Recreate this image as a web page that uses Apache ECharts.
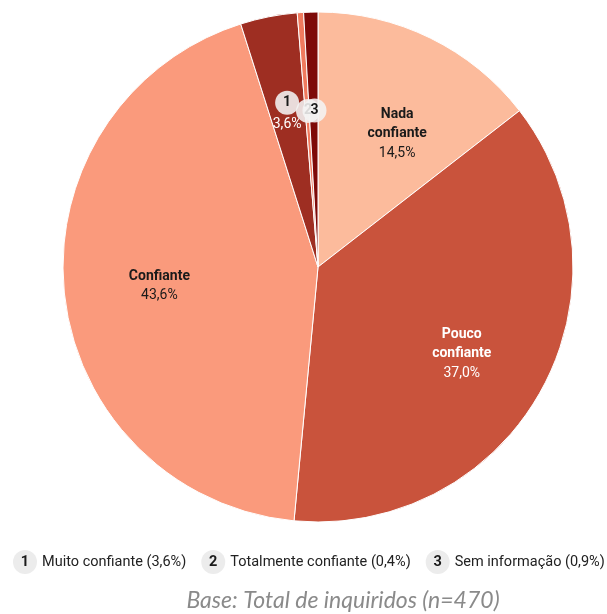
<!DOCTYPE html>
<html>
<head>
<meta charset="utf-8">
<script src="https://cdn.jsdelivr.net/npm/echarts@6/dist/echarts.min.js"></script>
<style>
  html, body { margin: 0; padding: 0; background: #ffffff; }
  #chart { width: 607px; height: 614px; }
</style>
</head>
<body>
<div id="chart"></div>
<script>
// Confidence categories, clockwise from 12 o'clock
const categories = ['Nada confiante', 'Pouco confiante', 'Confiante', 'Muito confiante', 'Totalmente confiante', 'Sem informação'];
const shares = [14.5, 37.0, 43.6, 3.6, 0.4, 0.9];
const sliceColors = ['#fcbb9c', '#c9533c', '#fa9a7c', '#9e2e22', '#f07a5e', '#7e0a08'];
// Small slices are tagged with a number and explained in the legend
const badges = ['', '', '', '1', '2', '3'];
const labelColors = ['#1a1a1a', '#ffffff', '#1a1a1a', '#ffffff', '#1a1a1a', '#1a1a1a'];
const showShareOnSlice = [true, true, true, true, false, false];

const fmt = v => v.toFixed(1).replace('.', ',') + '%';

// Geometry and fine label placement
const CX = 318, CY = 267, R = 255;
const labelNudge = [[9, 10], [4, 10], [0, 2], [0, 2], [1, 3], [1, 3]];

const pieData = categories.map((name, i) => ({
  name: name,
  value: shares[i],
  itemStyle: { color: sliceColors[i] }
}));

// Label carrier: transparent ring whose mid-radius sits where the labels go
const labelData = categories.map((name, i) => {
  let text;
  if (badges[i]) {
    text = '{badge|' + badges[i] + '}' + (showShareOnSlice[i] ? '\n{pct|' + fmt(shares[i]) + '}' : '');
  } else {
    text = name.split(' ').map(w => '{name|' + w + '}').join('\n') + '\n{pct|' + fmt(shares[i]) + '}';
  }
  return {
    name: name,
    value: shares[i],
    itemStyle: { color: 'rgba(0,0,0,0)' },
    label: {
      formatter: text,
      color: labelColors[i],
      rich: {
        name: { fontFamily: 'Roboto', fontWeight: 'bold', fontSize: 14, lineHeight: 19.5, color: labelColors[i] },
        pct: { fontFamily: 'Roboto', fontSize: 14, lineHeight: 19.5, color: labelColors[i] },
        badge: {
          fontFamily: 'Roboto', fontWeight: 'bold', fontSize: 14, color: '#1a1a1a',
          backgroundColor: 'rgba(244,244,244,0.88)', borderRadius: 12,
          width: 24, height: 24, lineHeight: 24, align: 'center'
        }
      }
    }
  };
});

const legendNames = categories.filter((_, i) => badges[i]);

const chart = echarts.init(document.getElementById('chart'), null, { renderer: 'canvas' });
chart.setOption({
  animation: false,
  backgroundColor: '#ffffff',
  title: {
    text: 'Base: Total de inquiridos (n=470)',
    left: 343,
    textAlign: 'center',
    top: 589,
    padding: 0,
    textStyle: { fontFamily: 'Lato', fontStyle: 'italic', fontWeight: 'normal', fontSize: 23, color: '#8a8a8a' }
  },
  legend: {
    data: legendNames,
    orient: 'horizontal',
    left: 7,
    top: 550,
    width: 800,
    padding: 0,
    icon: 'circle',
    itemWidth: 0,
    itemHeight: 0,
    itemGap: 9,
    selectedMode: false,
    formatter: name => {
      const i = categories.indexOf(name);
      return '{b|' + badges[i] + '}{t|' + name + ' (' + fmt(shares[i]) + ')}';
    },
    textStyle: {
      fontFamily: 'Roboto', fontSize: 14.5, color: '#222222',
      rich: {
        b: {
          fontFamily: 'Roboto', fontWeight: 'bold', fontSize: 14.5, color: '#1a1a1a',
          backgroundColor: '#ececec', borderRadius: 12, width: 24, height: 24, lineHeight: 24,
          align: 'center'
        },
        t: { fontFamily: 'Roboto', fontSize: 14.5, color: '#222222', padding: [0, 0, 0, 5] }
      }
    }
  },
  series: [
    {
      type: 'pie',
      center: [CX, CY],
      radius: [0, R],
      startAngle: 90,
      clockwise: true,
      silent: true,
      label: { show: false },
      labelLine: { show: false },
      itemStyle: { borderColor: '#ffffff', borderWidth: 1 },
      data: pieData
    },
    {
      type: 'pie',
      center: [CX, CY],
      radius: [58, R],
      startAngle: 90,
      clockwise: true,
      silent: true,
      label: { show: true, position: 'inside', align: 'center' },
      labelLine: { show: false },
      labelLayout: params => ({
        hideOverlap: false,
        dx: labelNudge[params.dataIndex][0],
        dy: labelNudge[params.dataIndex][1]
      }),
      data: labelData
    }
  ]
});
</script>
</body>
</html>
